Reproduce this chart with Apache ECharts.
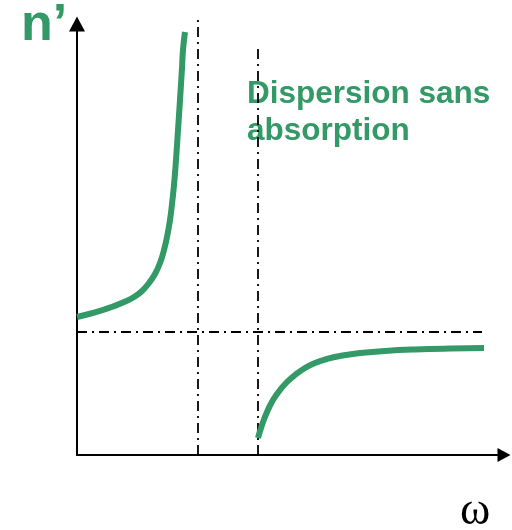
<!DOCTYPE html>
<html lang="fr">
<head>
  <meta charset="UTF-8">
  <title>Dispersion sans absorption</title>
  <script src="https://cdn.jsdelivr.net/npm/echarts@6/dist/echarts.min.js"></script>
  <style>
    html, body { margin: 0; padding: 0; background: #fff; }
  </style>
</head>
<body>
  <div id="main" style="width:512px;height:530px"></div>
  <script>
    var green = '#339966'

    // courbe avant la resonance (omega, n')
    var leftCurveX = [0, 12, 24, 36, 47, 57, 65, 72, 78, 83, 87, 90, 93, 95, 97, 99, 101, 103, 105, 106, 108]
    var leftCurveY = [138, 141, 144.5, 148.5, 153, 158, 164, 172, 181, 192, 205, 218, 235, 251, 270, 295, 325, 355, 387, 405, 423]

    // courbe apres la resonance
    var rightCurveX = [181, 185, 190, 196, 203, 210, 218, 228, 238, 250, 263, 283, 308, 338, 373, 407]
    var rightCurveY = [17, 30, 43, 55, 65, 73, 80, 87, 92, 96, 99, 102, 104, 105.5, 106.5, 107]

    // lignes pointillees
    var vLine1X = 121
    var vLine1Y = [0, 440]
    var vLine2X = 181
    var vLine2Y = [0, 410]
    var hLineY = 123
    var hLineX = [0, 405]

    function pairs(xs, ys) {
      var out = []
      for (var i = 0; i < xs.length; i++) {
        out.push([xs[i], ys[i]])
      }
      return out
    }

    var dashDot = {
      color: '#000',
      width: 1.8,
      type: [10, 5, 2, 5]
    }

    var myChart = echarts.init(document.getElementById('main'))

    var options = {
      animation: false,
      grid: { left: 77, right: 8, top: 24, bottom: 75 },
      xAxis: {
        type: 'value',
        min: 0,
        max: 427,
        axisLine: {
          show: true,
          lineStyle: { color: '#000', width: 2 },
          symbol: ['none', 'triangle'],
          symbolSize: [14, 13]
        },
        axisTick: { show: false },
        axisLabel: { show: false },
        splitLine: { show: false }
      },
      yAxis: {
        type: 'value',
        min: 0,
        max: 431,
        axisLine: {
          show: true,
          lineStyle: { color: '#000', width: 2 },
          symbol: ['none', 'triangle'],
          symbolSize: [16, 15]
        },
        axisTick: { show: false },
        axisLabel: { show: false },
        splitLine: { show: false }
      },
      series: [
        {
          type: 'line',
          data: [[vLine1X, vLine1Y[0]], [vLine1X, vLine1Y[1]]],
          symbol: 'none',
          clip: false,
          lineStyle: dashDot
        },
        {
          type: 'line',
          data: [[vLine2X, vLine2Y[0]], [vLine2X, vLine2Y[1]]],
          symbol: 'none',
          clip: false,
          lineStyle: dashDot
        },
        {
          type: 'line',
          data: [[hLineX[0], hLineY], [hLineX[1], hLineY]],
          symbol: 'none',
          clip: false,
          lineStyle: dashDot
        },
        {
          type: 'line',
          data: pairs(leftCurveX, leftCurveY),
          symbol: 'none',
          smooth: 0.5,
          clip: false,
          lineStyle: { color: green, width: 6, join: 'round', cap: 'butt' }
        },
        {
          type: 'line',
          data: pairs(rightCurveX, rightCurveY),
          symbol: 'none',
          smooth: 0.5,
          clip: false,
          lineStyle: { color: green, width: 6, join: 'round', cap: 'butt' }
        }
      ],
      graphic: [
        {
          type: 'text',
          left: 21,
          top: 0,
          style: {
            text: 'n’',
            fill: green,
            font: 'bold 52px "Liberation Sans", Arial, sans-serif'
          }
        },
        {
          type: 'text',
          left: 247,
          top: 76,
          style: {
            text: 'Dispersion sans\nabsorption',
            fill: green,
            lineHeight: 37,
            font: 'bold 31.5px "Liberation Sans", Arial, sans-serif'
          }
        },
        {
          type: 'text',
          left: 460,
          top: 489,
          style: {
            text: 'ω',
            fill: '#000',
            font: '46px "Liberation Serif", "DejaVu Serif", serif'
          }
        }
      ]
    }

    myChart.setOption(options)
  </script>
</body>
</html>
